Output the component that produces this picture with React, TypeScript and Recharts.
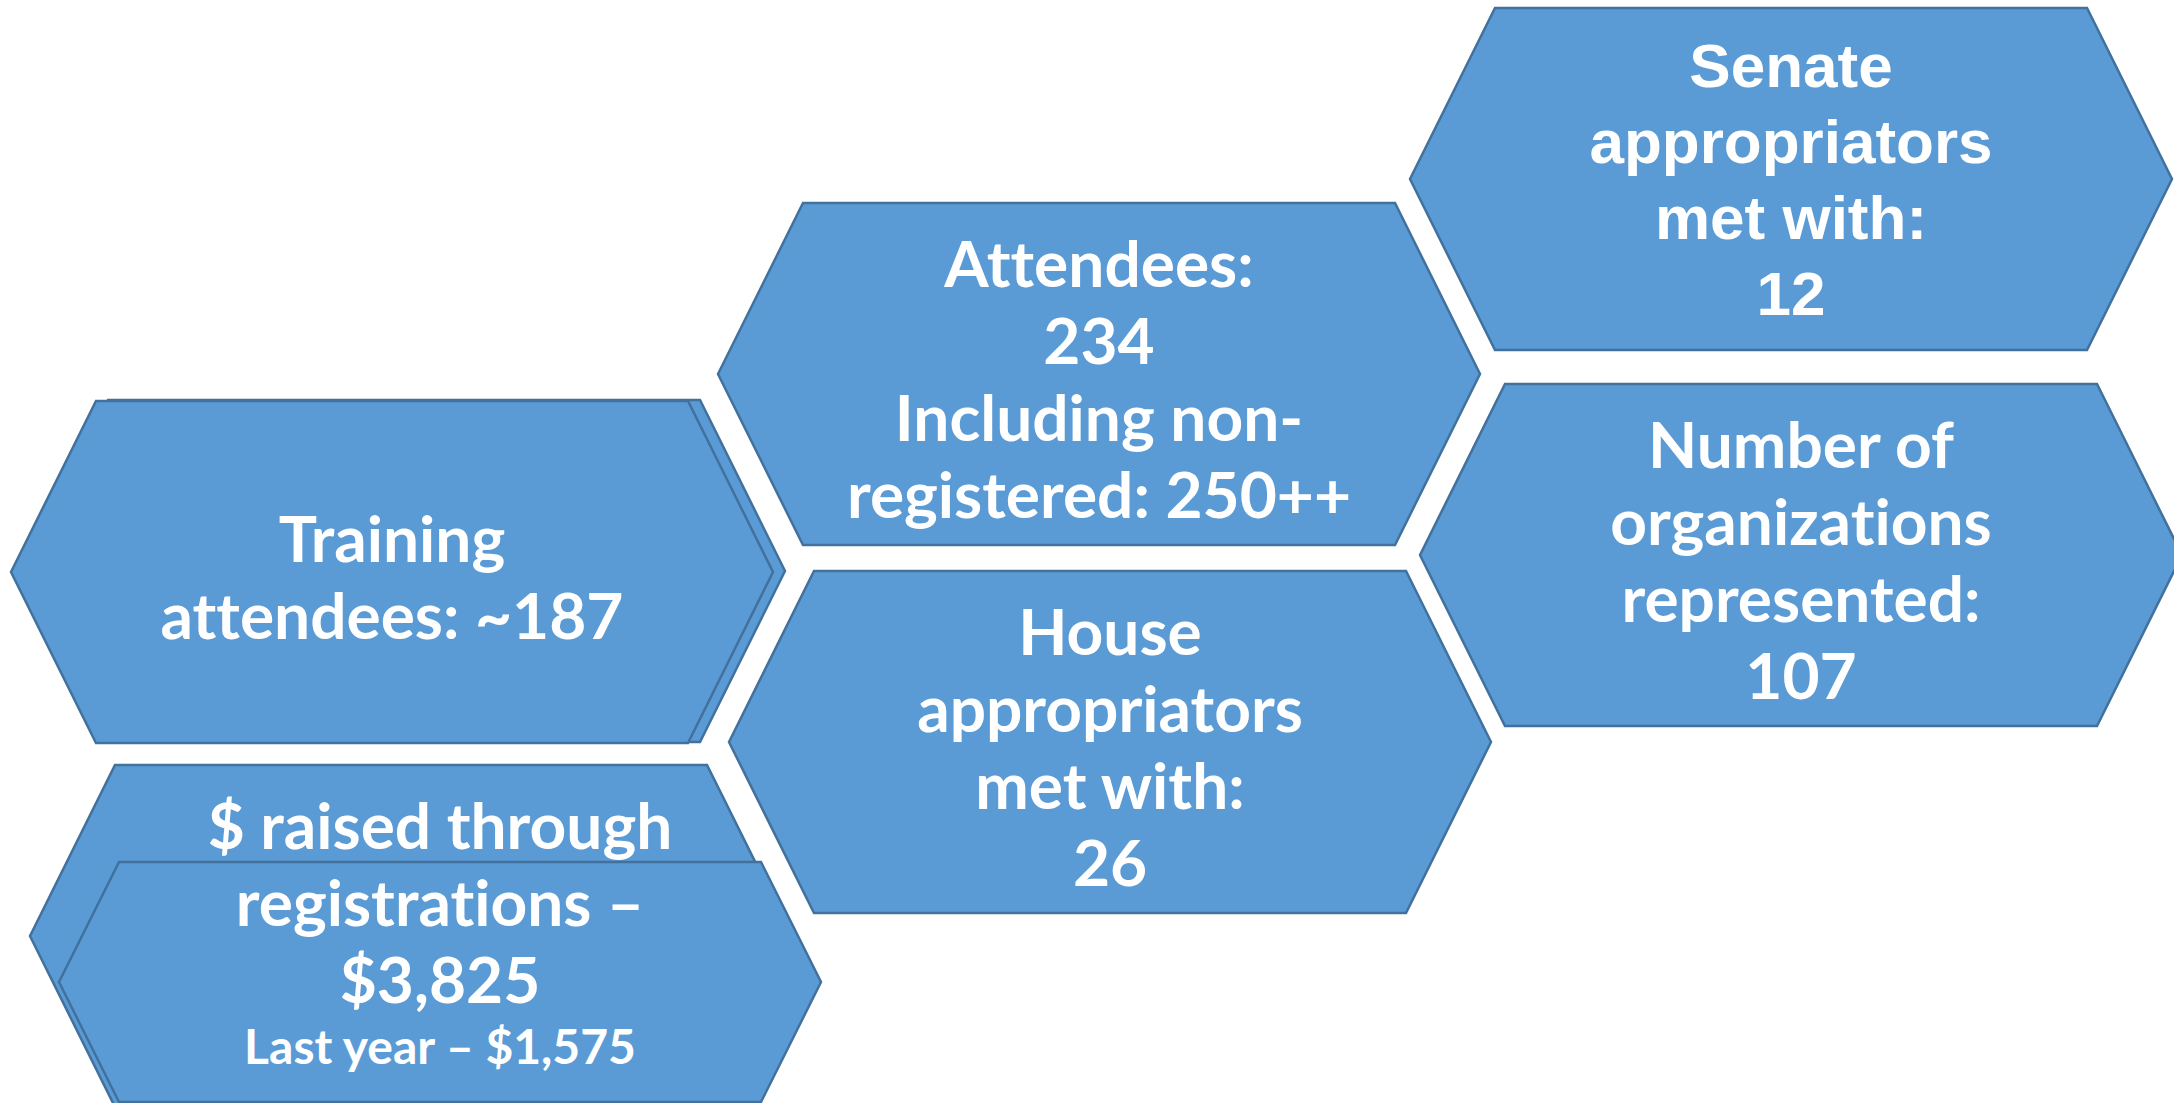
import { Scatter, ScatterChart, XAxis, YAxis } from "recharts"

const W = 2174
const H = 1103
const FILL = "#5B9BD5"
const STROKE = "#41719C"

// hexagon tiles: centres on a 2174 x 1103 layout grid, drawn back to front
const tileIds = ["training-back", "training", "raised-back", "raised", "attendees", "house", "senate", "orgs"]
const tileX = [404, 392, 411, 440, 1099, 1110, 1791, 1801]
const tileY = [571, 572, 936, 982, 374, 742, 179, 555]

// text blocks
const labelIds = ["training", "raised", "attendees", "house", "senate", "orgs"]
const labelLines = [
  ["Training", "attendees: ~187"],
  ["$ raised through", "registrations \u2013", "$3,825", "Last year \u2013 $1,575"],
  ["Attendees:", "234", "Including non-", "registered: 250++"],
  ["House", "appropriators", "met with:", "26"],
  ["Senate", "appropriators", "met with:", "12"],
  ["Number of", "organizations", "represented:", "107"],
]
const labelX = [392, 440, 1099, 1110, 1791, 1801]
const labelY = [572, 936, 374, 742, 179, 555]

const tiles = tileIds.map((id, i) => ({ id, x: tileX[i], y: tileY[i] }))
const labels = labelIds.map((id, i) => ({ id, x: labelX[i], y: labelY[i], lines: labelLines[i] }))

function Hex(props: any) {
  const { cx, cy, payload } = props
  const short = payload.id === "raised"
  const hw = 381
  const hh = short ? 120 : 171
  const inset = short ? 60 : 85
  const pts = [
    [cx - hw, cy],
    [cx - hw + inset, cy - hh],
    [cx + hw - inset, cy - hh],
    [cx + hw, cy],
    [cx + hw - inset, cy + hh],
    [cx - hw + inset, cy + hh],
  ]
  return (
    <polygon
      points={pts.map((p) => p.join(",")).join(" ")}
      fill={FILL}
      stroke={STROKE}
      strokeWidth={2.5}
      strokeLinejoin="miter"
    />
  )
}

function Label(props: any) {
  const { cx, cy, payload } = props
  const lines: string[] = payload.lines
  const arial = payload.id === "senate"
  const step = arial ? 76 : 77
  let base = cy - ((lines.length - 1) * step) / 2 + 28 + (arial ? -6 : 0)
  return (
    <text
      textAnchor="middle"
      fill="#ffffff"
      fontWeight="bold"
      fontFamily={arial ? "'Liberation Sans', Arial, sans-serif" : "Lato, 'Open Sans', sans-serif"}
      style={{ fontVariantLigatures: "none", fontFeatureSettings: "'liga' 0, 'clig' 0" }}
    >
      {lines.map((line, i) => {
        const small = line.startsWith("Last year")
        if (small && i > 0) base -= 16
        const y = base + i * step
        return (
          <tspan key={i} x={cx} y={y} fontSize={small ? 48 : arial ? 62 : 64}>
            {line}
          </tspan>
        )
      })}
    </text>
  )
}

export default function App() {
  return (
    <div style={{ position: "absolute", left: 0, top: 0, width: W, height: H, background: "#ffffff" }}>
      <ScatterChart width={W} height={H} margin={{ top: 0, right: 0, bottom: 0, left: 0 }}>
        <XAxis type="number" dataKey="x" domain={[0, W]} hide height={0} />
        <YAxis type="number" dataKey="y" domain={[0, H]} reversed hide width={0} />
        <Scatter data={tiles} shape={Hex} isAnimationActive={false} />
        <Scatter data={labels} shape={Label} isAnimationActive={false} />
      </ScatterChart>
    </div>
  )
}
